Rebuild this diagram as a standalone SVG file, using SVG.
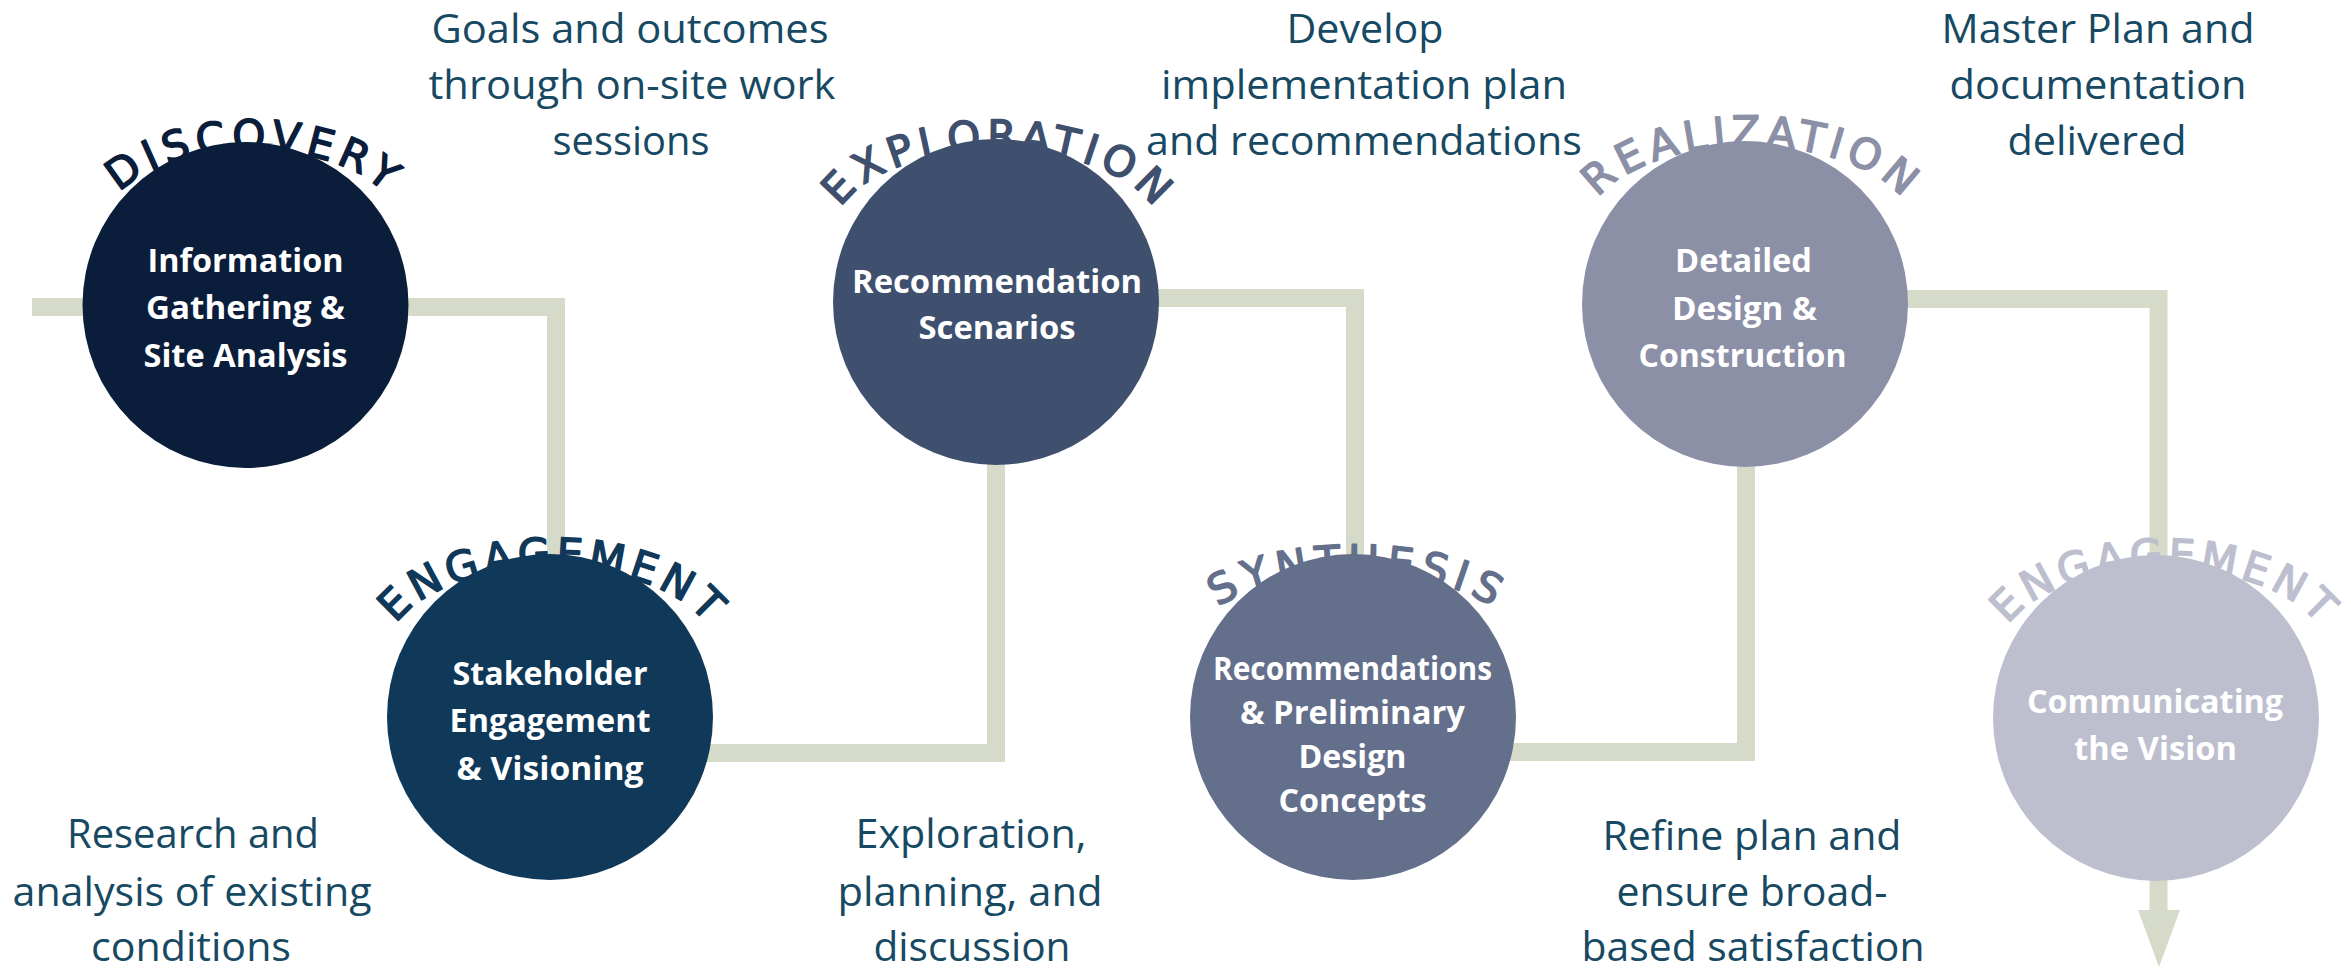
<svg xmlns="http://www.w3.org/2000/svg" width="2351" height="970" viewBox="0 0 2351 970">
<style>
.bar{fill:none;stroke:#d6dbc9;stroke-width:18;stroke-linejoin:miter}
.desc{font-family:"Open Sans","Liberation Sans",sans-serif;font-size:41px;fill:#174963;text-anchor:middle}
.lbl{font-family:"Open Sans","Liberation Sans",sans-serif;font-weight:700;font-size:33px;fill:#ffffff;text-anchor:middle}
.arc{font-family:"DejaVu Sans","Liberation Sans",sans-serif;font-size:42px;text-anchor:middle;stroke-width:1.6;stroke-linejoin:round}
</style>
<defs>
<path id="a1" d="M 110.1 260 A 151 82 0 1 1 393.9 260"/>
<path id="a2" d="M 395.9 682.1 A 165 85 0 1 1 706.1 682.1"/>
<path id="a3" d="M 841.9 264.1 A 165 85 0 1 1 1152.1 264.1"/>
<path id="a4" d="M 1212.2 652.8 A 152 58 0 1 1 1497.8 652.8"/>
<path id="a5" d="M 1594.9 260.1 A 165 85 0 1 1 1905.1 260.1"/>
<path id="a6" d="M 2007.9 683.1 A 165 85 0 1 1 2318.1 683.1"/>
</defs>
<rect width="2351" height="970" fill="#ffffff"/>
<g id="connectors">
<path class="bar" d="M 32 307 H 556 V 600"/>
<path class="bar" d="M 560 753 H 996 V 300"/>
<path class="bar" d="M 1000 298 H 1355 V 720"/>
<path class="bar" d="M 1360 752 H 1746 V 300"/>
<path class="bar" d="M 1750 299 H 2158.5 V 912"/>
<polygon points="2138,910 2180,910 2159,967" fill="#d6dbc9"/>
</g>
<g id="discovery">
<circle cx="245.5" cy="305" r="163" fill="#0a1d3a"/>
<text class="arc" fill="#0a1d3a" stroke="#0a1d3a"><textPath href="#a1" startOffset="50%" textLength="285" lengthAdjust="spacing">DISCOVERY</textPath></text>
<text class="lbl" x="245.5" y="272" textLength="196" lengthAdjust="spacingAndGlyphs">Information</text>
<text class="lbl" x="245.5" y="319" textLength="199" lengthAdjust="spacingAndGlyphs">Gathering &amp;</text>
<text class="lbl" x="245.5" y="367" textLength="204" lengthAdjust="spacingAndGlyphs">Site Analysis</text>
</g>
<g id="engagement">
<circle cx="550" cy="717" r="163" fill="#0f3859"/>
<text class="arc" fill="#0f3859" stroke="#0f3859"><textPath href="#a2" startOffset="50%" textLength="340" lengthAdjust="spacing">ENGAGEMENT</textPath></text>
<text class="lbl" x="550" y="685" textLength="195" lengthAdjust="spacingAndGlyphs">Stakeholder</text>
<text class="lbl" x="550" y="732" textLength="201" lengthAdjust="spacingAndGlyphs">Engagement</text>
<text class="lbl" x="550" y="780" textLength="187" lengthAdjust="spacingAndGlyphs">&amp; Visioning</text>
</g>
<g id="exploration">
<circle cx="996" cy="302" r="163" fill="#3e506e"/>
<text class="arc" fill="#3e506e" stroke="#3e506e"><textPath href="#a3" startOffset="50%" textLength="345" lengthAdjust="spacing">EXPLORATION</textPath></text>
<text class="lbl" x="997" y="293" textLength="290" lengthAdjust="spacingAndGlyphs">Recommendation</text>
<text class="lbl" x="997" y="339" textLength="157" lengthAdjust="spacingAndGlyphs">Scenarios</text>
</g>
<g id="synthesis">
<circle cx="1353" cy="717" r="163" fill="#636f8b"/>
<text class="arc" fill="#636f8b" stroke="#636f8b"><textPath href="#a4" startOffset="50%" textLength="285" lengthAdjust="spacing">SYNTHESIS</textPath></text>
<text class="lbl" x="1352.5" y="680" textLength="279" lengthAdjust="spacingAndGlyphs">Recommendations</text>
<text class="lbl" x="1352.5" y="724" textLength="225" lengthAdjust="spacingAndGlyphs">&amp; Preliminary</text>
<text class="lbl" x="1352.5" y="768" textLength="108" lengthAdjust="spacingAndGlyphs">Design</text>
<text class="lbl" x="1352.5" y="812" textLength="148" lengthAdjust="spacingAndGlyphs">Concepts</text>
</g>
<g id="realization">
<circle cx="1745" cy="304" r="163" fill="#8c90a7"/>
<text class="arc" fill="#8c90a7" stroke="#8c90a7"><textPath href="#a5" startOffset="50%" textLength="330" lengthAdjust="spacing">REALIZATION</textPath></text>
<text class="lbl" x="1743.5" y="272" textLength="137" lengthAdjust="spacingAndGlyphs">Detailed</text>
<text class="lbl" x="1744.5" y="320" textLength="145" lengthAdjust="spacingAndGlyphs">Design &amp;</text>
<text class="lbl" x="1742.5" y="367" textLength="208" lengthAdjust="spacingAndGlyphs">Construction</text>
</g>
<g id="engagement-2">
<circle cx="2156" cy="718" r="163" fill="#bdbfcf"/>
<text class="arc" fill="#bdbfcf" stroke="#bdbfcf"><textPath href="#a6" startOffset="50%" textLength="340" lengthAdjust="spacing">ENGAGEMENT</textPath></text>
<text class="lbl" x="2155" y="713" fill="#eef0f5" textLength="256" lengthAdjust="spacingAndGlyphs">Communicating</text>
<text class="lbl" x="2155.5" y="760" fill="#eef0f5" textLength="163" lengthAdjust="spacingAndGlyphs">the Vision</text>
</g>
<g id="descriptions">
<text class="desc" x="630" y="43" textLength="397" lengthAdjust="spacingAndGlyphs">Goals and outcomes</text>
<text class="desc" x="632" y="99" textLength="407" lengthAdjust="spacingAndGlyphs">through on-site work</text>
<text class="desc" x="631" y="155" textLength="157" lengthAdjust="spacingAndGlyphs">sessions</text>
<text class="desc" x="1365" y="43" textLength="157" lengthAdjust="spacingAndGlyphs">Develop</text>
<text class="desc" x="1364" y="99" textLength="406" lengthAdjust="spacingAndGlyphs">implementation plan</text>
<text class="desc" x="1364" y="155" textLength="436" lengthAdjust="spacingAndGlyphs">and recommendations</text>
<text class="desc" x="2098" y="43" textLength="313" lengthAdjust="spacingAndGlyphs">Master Plan and</text>
<text class="desc" x="2098" y="99" textLength="297" lengthAdjust="spacingAndGlyphs">documentation</text>
<text class="desc" x="2097" y="155" textLength="179" lengthAdjust="spacingAndGlyphs">delivered</text>
<text class="desc" x="193" y="848" textLength="252" lengthAdjust="spacingAndGlyphs">Research and</text>
<text class="desc" x="192" y="906" textLength="359" lengthAdjust="spacingAndGlyphs">analysis of existing</text>
<text class="desc" x="191" y="961" textLength="200" lengthAdjust="spacingAndGlyphs">conditions</text>
<text class="desc" x="971" y="848" textLength="231" lengthAdjust="spacingAndGlyphs">Exploration,</text>
<text class="desc" x="970" y="906" textLength="265" lengthAdjust="spacingAndGlyphs">planning, and</text>
<text class="desc" x="972" y="961" textLength="197" lengthAdjust="spacingAndGlyphs">discussion</text>
<text class="desc" x="1752" y="850" textLength="299" lengthAdjust="spacingAndGlyphs">Refine plan and</text>
<text class="desc" x="1752" y="906" textLength="271" lengthAdjust="spacingAndGlyphs">ensure broad-</text>
<text class="desc" x="1753" y="961" textLength="343" lengthAdjust="spacingAndGlyphs">based satisfaction</text>
</g>
</svg>
